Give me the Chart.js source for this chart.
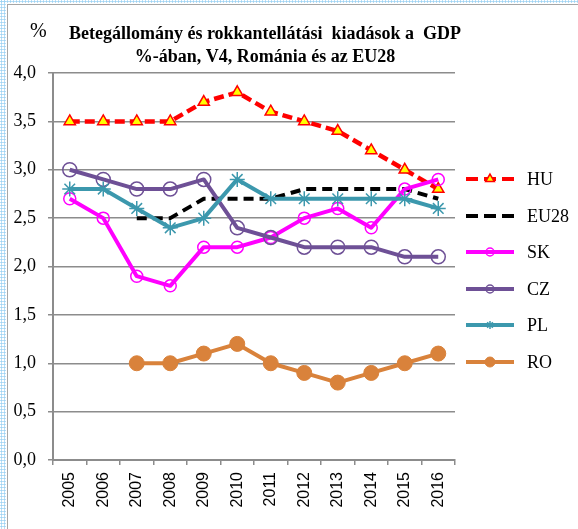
<!DOCTYPE html>
<html><head><meta charset="utf-8">
<script src="https://cdn.jsdelivr.net/npm/chart.js@4/dist/chart.umd.min.js"></script>
<style>
html,body{margin:0;padding:0;background:#fff;overflow:hidden;}
#wrap{position:relative;width:578px;height:529px;}
#bandL{position:absolute;left:0;top:0;width:6px;height:529px;background:radial-gradient(circle,#9fd3f3 0.9px,transparent 1.3px) 0 0/3px 3px;}
#bandT{position:absolute;left:0;top:0;width:578px;height:3px;background:radial-gradient(circle,#9fd3f3 0.9px,transparent 1.3px) 0 0/3px 3px;}
#lineL{position:absolute;left:7px;top:4px;width:1px;height:525px;background:#a6a6a6;}
#lineT{position:absolute;left:7px;top:4px;width:571px;height:1px;background:#a6a6a6;}
canvas{position:absolute;left:0;top:0;}
</style></head>
<body><div id="wrap"><div id="bandL"></div><div id="bandT"></div><div id="lineL"></div><div id="lineT"></div>
<canvas id="c" width="578" height="529"></canvas></div>
<script>
const years = ['2005','2006','2007','2008','2009','2010','2011','2012','2013','2014','2015','2016'];
const seriesNames = ['HU','EU28','SK','CZ','PL','RO'];
const HU   = [3.5,3.5,3.5,3.5,3.7,3.8,3.6,3.5,3.4,3.2,3.0,2.8];
const EU28 = [null,null,2.5,2.5,2.7,2.7,2.7,2.8,2.8,2.8,2.8,2.7];
const SK   = [2.7,2.5,1.9,1.8,2.2,2.2,2.3,2.5,2.6,2.4,2.8,2.9];
const CZ   = [3.0,2.9,2.8,2.8,2.9,2.4,2.3,2.2,2.2,2.2,2.1,2.1];
const PL   = [2.8,2.8,2.6,2.4,2.5,2.9,2.7,2.7,2.7,2.7,2.7,2.6];
const RO   = [null,null,1.0,1.0,1.1,1.2,1.0,0.9,0.8,0.9,1.0,1.1];
const titleLines = ['Betegállomány és rokkantellátási  kiadások a  GDP','%-ában, V4, Románia és az EU28'];
const unitLabel = '%';

const C = {HU:'#FF0000', EU:'#000000', SK:'#FF00FF', CZ:'#6E5096', PL:'#3C98AD', RO:'#D9823B'};
const gridC = '#8c8c8c';

const datasets = [
 {label:seriesNames[0], data:HU, borderColor:C.HU, borderWidth:4.5, borderDash:[10,5], pointStyle:'triangle', pointRadius:6.5, pointBackgroundColor:'#FFFF00', pointBorderColor:C.HU, pointBorderWidth:1.5, order:6, legendR:5},
 {label:seriesNames[1], data:EU28, borderColor:C.EU, borderWidth:4, borderDash:[10,6], pointRadius:0, order:5},
 {label:seriesNames[2], data:SK, borderColor:C.SK, borderWidth:4, pointStyle:'circle', pointRadius:6, pointBackgroundColor:'rgba(255,255,255,0)', pointBorderColor:C.SK, pointBorderWidth:1.5, order:4, legendR:4},
 {label:seriesNames[3], data:CZ, borderColor:C.CZ, borderWidth:4, pointStyle:'circle', pointRadius:7, pointBackgroundColor:'rgba(255,255,255,0)', pointBorderColor:C.CZ, pointBorderWidth:1.5, order:3, legendR:4},
 {label:seriesNames[4], data:PL, borderColor:C.PL, borderWidth:4, pointStyle:'star', pointRadius:7.5, pointBorderColor:C.PL, pointBackgroundColor:C.PL, pointBorderWidth:1.5, order:2, legendR:4},
 {label:seriesNames[5], data:RO, borderColor:C.RO, borderWidth:4, pointStyle:'circle', pointRadius:7.5, pointBackgroundColor:C.RO, pointBorderColor:C.RO, pointBorderWidth:1, order:1, legendR:5}
];
datasets.forEach(d=>{d.fill=false; d.tension=0; d.pointHoverRadius=d.pointRadius; d.borderCapStyle='butt'; d.borderJoinStyle='round';});

const deco = {
 id:'deco',
 afterDraw(chart){
  const ctx = chart.ctx;
  ctx.save();
  ctx.fillStyle = '#000';
  ctx.textAlign = 'center';
  ctx.textBaseline = 'alphabetic';
  ctx.font = 'bold 18px "Liberation Serif", "Times New Roman", serif';
  ctx.fillText(titleLines[0], 265, 39);
  ctx.fillText(titleLines[1], 265, 62);
  ctx.textAlign = 'left';
  ctx.font = '20px "Liberation Serif", serif';
  ctx.fillText(unitLabel, 30, 37);
  // legend
  const rows = [179,216,252,289,325,362];
  chart.data.datasets.forEach((ds,i)=>{
    const y = rows[i];
    ctx.save();
    ctx.strokeStyle = ds.borderColor;
    ctx.lineWidth = 4;
    ctx.lineCap = 'butt';
    ctx.setLineDash(ds.borderDash ? [12,6] : []);
    ctx.beginPath(); ctx.moveTo(466,y); ctx.lineTo(514,y); ctx.stroke();
    ctx.setLineDash([]);
    if (ds.pointRadius > 0) {
      ctx.fillStyle = ds.pointBackgroundColor;
      ctx.strokeStyle = ds.pointBorderColor;
      ctx.lineWidth = ds.pointBorderWidth;
      Chart.helpers.drawPoint(ctx, {pointStyle:ds.pointStyle, radius:ds.legendR, rotation:0, borderWidth:ds.pointBorderWidth}, 490, y);
    }
    ctx.restore();
    ctx.fillStyle = '#000';
    ctx.textAlign = 'left';
    ctx.textBaseline = 'middle';
    ctx.font = '18px "Liberation Serif", serif';
    ctx.fillText(ds.label, 527, y+1);
  });
  ctx.restore();
 }
};

new Chart(document.getElementById('c'), {
 type:'line',
 data:{labels:years, datasets:datasets},
 options:{
  responsive:false, animation:false, devicePixelRatio:1,
  layout:{padding:{left:0, right:123, top:73, bottom:0}},
  plugins:{legend:{display:false}, title:{display:false}, tooltip:{enabled:false}},
  scales:{
   x:{type:'category', offset:true,
      grid:{display:true, drawOnChartArea:false, drawTicks:true, tickLength:5, offset:true, color:gridC, lineWidth:1.5},
      border:{display:true, color:gridC, width:2},
      ticks:{minRotation:90, maxRotation:90, autoSkip:false, padding:7, color:'#000', font:{family:'"Liberation Sans", Arial, sans-serif', size:16}},
      afterFit(s){ s.height = 69; }
   },
   y:{min:0, max:4,
      grid:{color:gridC, lineWidth:1.5, tickLength:5, drawTicks:true},
      border:{display:true, color:gridC, width:2},
      ticks:{stepSize:0.5, padding:12, color:'#000', font:{family:'"Liberation Serif", "Times New Roman", serif', size:18},
        callback:(v)=>v.toFixed(1).replace('.',',')},
      afterFit(s){ s.width = 53; }
   }
  }
 },
 plugins:[deco]
});
</script></body></html>
